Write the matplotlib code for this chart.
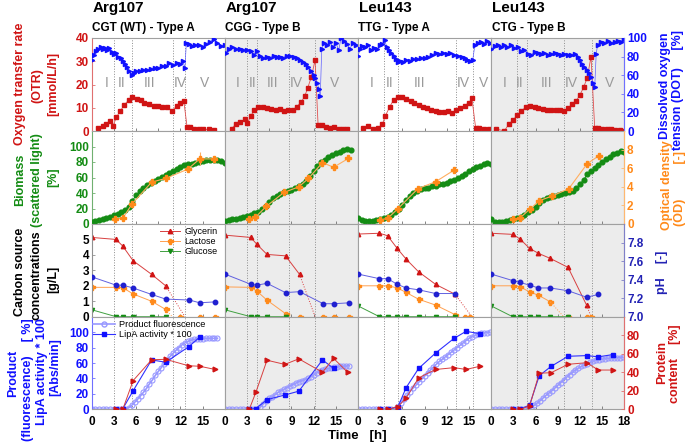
import matplotlib
matplotlib.use('Agg')
import matplotlib.pyplot as plt
from matplotlib.lines import Line2D

plt.rcParams['font.family'] = ['Liberation Sans', 'DejaVu Sans']
plt.rcParams['font.weight'] = 'bold'

RED = '#d01414'
BLUE = '#1010ff'
GREEN = '#148c14'
ORANGE = '#ff8a1a'
DKBLUE = '#2222b4'
LAV = '#9898ff'
PHASE = '#9a9a9a'
VLINE = '#8c8c8c'
SHADE = '#ececec'
FRAME = '#a0a0a0'

# ---------------- titles / phases ----------------
strains = ['Arg107', 'Arg107', 'Leu143', 'Leu143']
codons = ['CGT (WT) - Type A', 'CGG - Type B', 'TTG - Type A', 'CTG - Type B']
phase_names = ['I', 'II', 'III', 'IV', 'V']
phase_bounds_c1 = [3.0, 5.5, 11.0, 12.6]
phase_bounds_c2 = [3.0, 4.4, 8.7, 12.2]
phase_bounds_c3 = [3.5, 5.4, 13.2, 15.5]
phase_bounds_c4 = [3.5, 4.8, 9.9, 13.6]
phase_text_c1 = [2.0, 4.1, 7.8, 12.0, 15.3]
phase_text_c2 = [1.7, 3.8, 6.4, 9.7, 14.8]
phase_text_c3 = [1.8, 4.3, 8.3, 14.2, 17.0]
phase_text_c4 = [1.8, 3.9, 7.5, 10.9, 16.0]

# ---------------- row 1: DOT [%] and OTR [mmol/L/h] ----------------
dot_t_c1 = [0, 0.3, 0.6, 0.9, 1.2, 1.5, 1.8, 2.1, 2.4, 2.7, 3.0, 3.3, 3.6, 3.9, 4.2, 4.5, 4.8, 5.1, 5.4, 5.7,
            6.0, 6.5, 7.0, 7.5, 8.0, 8.5, 9.0, 9.5, 10.0, 10.5, 11.0, 11.5, 12.0, 12.3, 12.6, 12.8, 13.1, 13.5,
            14.0, 14.5, 15.0, 15.5, 16.0, 16.5, 17.0, 17.5, 18.0]
dot_c1 = [76, 82, 86, 88, 90, 88, 89, 87, 89, 85, 83, 84, 80, 78, 75, 72, 69, 65, 60, 62,
          64, 65, 66, 66, 67, 68, 68, 70, 70, 73, 71, 73, 72, 75, 68, 95, 94, 91,
          93, 92, 90, 94, 96, 99, 95, 91, 92]
dot_t_c2 = [0.1, 0.5, 1.0, 1.5, 2.0, 2.5, 3.0, 3.5, 3.9, 4.3, 4.8, 5.2, 5.7, 6.1, 6.6, 7.0, 7.5, 7.9, 8.4, 8.8,
            9.3, 9.7, 10.2, 10.6, 11.0, 11.3, 11.6, 12.0, 12.2, 12.5, 12.7, 12.9, 13.1, 13.4, 13.8, 14.2, 14.6,
            15.0, 15.4, 15.7, 16.1, 16.5, 16.9, 17.3, 17.7]
dot_c2 = [84, 88, 90, 88, 88, 87, 87, 86, 82, 86, 81, 79, 80, 79, 81, 80, 80, 79, 81, 81,
          80, 78, 76, 74, 72, 69, 64, 60, 57, 52, 45, 38, 88, 95, 92, 96, 90,
          95, 87, 100, 97, 94, 88, 95, 92]
dot_t_c3 = [0, 0.3, 0.6, 1.0, 1.4, 1.8, 2.2, 2.6, 3.0, 3.3, 3.6, 3.9, 4.2, 4.5, 4.8, 5.1, 5.4, 5.7, 6.1, 6.5,
            7.0, 7.5, 8.0, 8.5, 9.0, 9.5, 10.0, 10.5, 11.0, 11.5, 12.0, 12.5, 13.0, 13.5, 14.0, 14.4, 14.8,
            15.2, 15.5, 15.8, 16.2, 16.6, 17.0, 17.4, 17.8]
dot_c3 = [81, 88, 91, 90, 92, 87, 89, 88, 92, 94, 98, 90, 87, 84, 81, 77, 74, 75, 74, 76,
          75, 77, 77, 78, 79, 80, 82, 84, 83, 84, 83, 84, 82, 81, 80, 78, 76,
          75, 76, 92, 95, 96, 94, 97, 95]
dot_t_c4 = [0, 0.5, 0.9, 1.3, 1.8, 2.2, 2.7, 3.1, 3.6, 4.0, 4.5, 5.0, 5.4, 5.9, 6.3, 6.8, 7.2, 7.7, 8.1, 8.6,
            9.0, 9.5, 9.9, 10.4, 10.8, 11.3, 11.7, 12.0, 12.3, 12.6, 12.9, 13.2, 13.5, 13.8, 14.0, 14.2, 14.4,
            14.8, 15.3, 15.8, 16.2, 16.7, 17.1, 17.5, 17.9]
dot_c4 = [88, 91, 93, 90, 92, 90, 93, 89, 90, 86, 87, 83, 82, 85, 84, 83, 84, 82, 83, 84,
          83, 82, 83, 82, 82, 83, 80, 76, 72, 69, 66, 62, 58, 52, 47, 83, 93,
          96, 95, 97, 95, 96, 97, 96, 99]

otr_t_c1 = [0.85, 1.5, 2.0, 2.45, 2.9, 3.35, 3.85, 4.4, 5.0, 5.45, 6.1, 6.6, 7.1, 7.8, 8.4, 8.9, 9.5, 10.2,
            10.9, 11.5, 12.0, 12.45, 12.9, 13.3, 13.8, 14.5, 15.1, 15.8, 16.5]
otr_c1 = [1.15, 2.0, 2.8, 4.1, 2.3, 6.0, 8.5, 11.2, 13.3, 14.5, 13.9, 13.3, 12.2, 11.6, 10.8, 10.8, 10.5, 10.2,
          8.7, 10.8, 11.9, 13.0, 1.6, 1.8, 1.0, 0.8, 0.7, 0.65, 0.6]
otr_t_c2 = [0.9, 1.5, 2.1, 2.7, 3.05, 3.5, 4.0, 4.5, 5.1, 5.7, 6.3, 6.9, 7.5, 8.0, 8.6, 9.2, 9.7, 10.3, 10.8,
            11.2, 11.7, 12.2, 12.6, 13.1, 13.7, 14.2, 14.8, 15.4, 16.0, 16.5]
otr_c2 = [1.0, 3.0, 4.0, 5.0, 3.3, 6.5, 9.0, 10.2, 10.3, 9.9, 9.5, 9.0, 9.3, 8.5, 9.2, 8.9, 10.5, 12.3, 15.0,
          18.5, 23.3, 30.5, 2.7, 2.4, 1.8, 1.3, 1.6, 1.0, 1.0, 0.9]
otr_t_c3 = [0.7, 1.35, 2.0, 2.7, 3.3, 3.7, 4.3, 4.8, 5.4, 6.0, 6.5, 7.1, 7.6, 8.2, 8.8, 9.3, 9.9, 10.5, 11.0,
            11.6, 12.1, 12.7, 13.3, 13.8, 14.4, 15.0, 15.4, 15.9, 16.4, 17.1, 17.7]
otr_c3 = [1.4, 2.15, 0.7, 1.15, 3.0, 6.5, 10.5, 13.3, 14.75, 14.5, 13.8, 12.9, 12.2, 11.2, 10.5, 9.8, 9.0, 8.6,
          8.3, 8.3, 8.6, 7.9, 9.0, 10.0, 10.9, 12.2, 14.1, 1.4, 1.15, 0.9, 0.7]
otr_t_c4 = [0.6, 1.8, 2.4, 3.0, 3.5, 4.1, 4.7, 5.3, 5.9, 6.4, 7.0, 7.6, 8.1, 8.7, 9.3, 9.8, 10.4, 10.9, 11.5,
            12.0, 12.5, 13.0, 13.5, 14.0, 14.5, 15.0, 15.6, 16.2, 16.8, 17.4, 18.0]
otr_c4 = [0.8, 0.1, 3.0, 4.8, 6.8, 8.7, 10.3, 10.8, 10.4, 9.8, 9.4, 9.2, 9.0, 9.0, 8.9, 8.6, 9.8, 11.4, 13.0,
          15.5, 18.8, 23.0, 32.0, 1.2, 1.1, 1.0, 0.9, 0.8, 0.6, 0.4, 0.2]

# ---------------- row 2: biomass [%] and OD [-] ----------------
bio_t_c1 = [0, 0.5, 1, 1.5, 2, 2.5, 3, 3.5, 4, 4.5, 5, 5.5, 6, 6.5, 7, 7.5, 8, 8.5, 9, 9.5, 10, 10.5, 11,
            11.5, 12, 12.5, 13, 13.5, 14, 14.5, 15, 15.5, 16, 16.5, 17, 17.5, 18]
bio_c1 = [3, 4, 5, 6.5, 8, 9.5, 11.5, 13.5, 16, 18.5, 22, 30, 37, 42, 47, 50, 53, 56, 58, 60.5, 63, 66, 68,
          71, 74, 76, 78, 78, 79, 80, 81, 82, 82, 83, 82, 81, 79]
bio_t_c2 = [0, 0.5, 1, 1.5, 2, 2.5, 3, 3.5, 4, 4.5, 5, 5.5, 6, 6.5, 7, 7.5, 8, 8.5, 9, 9.5, 10, 10.5, 11,
            11.5, 12, 12.5, 13, 13.5, 14, 14.5, 15, 15.5, 16, 16.5, 17]
bio_c2 = [4, 5, 6, 7, 8, 9, 10.5, 12, 14, 16, 19, 23, 29, 33, 36, 38.5, 41, 43, 44, 46, 49, 52, 56,
          62, 68, 75, 80, 83, 86, 89, 91, 93.5, 96, 97, 95]
bio_t_c3 = [0, 0.5, 1, 1.5, 2, 2.5, 3, 3.5, 4, 4.5, 5, 5.5, 6, 6.5, 7, 7.5, 8, 8.5, 9, 9.5, 10, 10.5, 11,
            11.5, 12, 12.5, 13, 13.5, 14, 14.5, 15, 15.5, 16, 16.5, 17, 17.5, 18]
bio_c3 = [8, 5, 3.5, 3.5, 4.5, 5.5, 6.5, 8, 9.5, 11, 15, 20, 25, 31, 36, 40, 43, 45, 46, 47, 48.5, 49.5, 51,
          52, 53.5, 55, 57, 59, 62, 65, 68, 70.5, 73, 75, 77, 79, 78]
bio_t_c4 = [0, 0.5, 1, 1.5, 2, 2.5, 3, 3.5, 4, 4.5, 5, 5.5, 6, 6.5, 7, 7.5, 8, 8.5, 9, 9.5, 10, 10.5, 11,
            11.5, 12, 12.5, 13, 13.5, 14, 14.5, 15, 15.5, 16, 16.5, 17, 17.5, 18]
bio_c4 = [7, 3, 2, 2, 3.5, 5, 6.5, 8, 9.5, 12, 15, 18, 22, 27, 31, 33, 34.5, 36, 37, 38.5, 40, 41.5, 43,
          46, 51, 57, 64, 68, 72, 76, 80, 84, 87, 90, 92, 94, 93]

od_t_c1 = [3.2, 4.2, 5.5, 8.1, 10.0, 13.0, 14.6, 16.6]
od_c1 = [0.55, 0.62, 2.2, 4.5, 4.9, 5.9, 7.0, 7.0]
od_err_c1 = [0.1, 0.1, 0.15, 0.15, 0.15, 0.3, 0.7, 0.15]
od_t_c2 = [3.3, 4.1, 5.6, 8.0, 10.0, 11.3, 13.2, 14.7, 16.7]
od_c2 = [0.55, 0.7, 1.9, 3.4, 4.0, 4.9, 6.6, 6.1, 7.05]
od_err_c2 = [0.1, 0.1, 0.1, 0.1, 0.1, 0.1, 0.15, 0.15, 0.15]
od_t_c3 = [3.0, 4.0, 5.4, 8.1, 10.5, 13.0]
od_c3 = [0.45, 0.6, 1.65, 3.8, 4.55, 5.8]
od_err_c3 = [0.1, 0.1, 0.1, 0.1, 0.1, 0.15]
od_t_c4 = [3.0, 3.9, 5.3, 6.5, 8.2, 10.5, 13.0, 14.6]
od_c4 = [0.5, 0.65, 1.65, 2.5, 3.0, 3.8, 6.5, 7.35]
od_err_c4 = [0.1, 0.1, 0.1, 0.1, 0.1, 0.1, 0.15, 0.15]

# ---------------- row 3: carbon sources [g/L] and pH ----------------
glyc_t_c1 = [0, 3.3, 4.2, 5.6, 8.1, 10.0]
glyc_c1 = [5.13, 5.0, 4.57, 3.62, 2.74, 2.0]
glyc_t_c2 = [0, 3.5, 4.3, 5.7, 8.2, 10.1]
glyc_c2 = [5.28, 5.13, 4.7, 4.03, 3.94, 2.74]
glyc_t_c3 = [0, 2.9, 4.0, 5.3, 6.5, 8.2, 10.5, 13.1]
glyc_c3 = [5.35, 5.4, 5.24, 4.42, 3.73, 2.9, 2.09, 1.46]
glyc_t_c4 = [0, 2.9, 3.9, 5.2, 6.4, 8.0, 10.4, 12.9]
glyc_c4 = [5.4, 5.33, 5.03, 4.42, 4.1, 3.77, 3.19, 0.75]
glyc_end_t = [12.6, 12.2, 15.4, 13.5]

lact_t_c1 = [0, 3.3, 4.2, 5.6, 8.1, 10.0]
lact_c1 = [1.9, 1.9, 1.88, 1.47, 1.0, 0.47]
lact_t_c2 = [0, 3.5, 4.3, 5.7, 8.2]
lact_c2 = [1.93, 1.9, 1.67, 1.07, 0.2]
lact_t_c3 = [0, 2.9, 4.0, 5.3, 6.5, 8.2, 10.5, 13.1]
lact_c3 = [2.0, 2.0, 2.0, 1.87, 1.57, 1.13, 0.75, 0.14]
lact_t_c4 = [0, 2.9, 3.9, 5.2, 6.4, 8.0]
lact_c4 = [2.0, 2.0, 1.94, 1.6, 1.39, 0.96]
lact_end_t = [10.9, 8.8, 13.6, 9.8]
lact_zero_t_c1 = [12.0, 14.6, 16.7]
lact_zero_t_c2 = [10.1, 13.3, 14.8, 16.8]
lact_zero_t_c3 = [14.4, 15.1]
lact_zero_t_c4 = [10.4, 12.9, 13.5]

gluc_t_c1 = [0, 3.3, 4.2, 5.6, 8.1, 10.0]
gluc_c1 = [0.45, 0, 0, 0, 0, 0]
gluc_t_c2 = [0, 3.5, 4.3, 5.7, 8.2]
gluc_c2 = [0.45, 0, 0, 0, 0]
gluc_t_c3 = [0, 2.9, 4.0, 5.3, 6.5, 8.2, 10.5, 13.1]
gluc_c3 = [0.7, 0, 0, 0, 0, 0, 0, 0]
gluc_t_c4 = [0, 2.9, 3.9, 5.2, 6.4, 8.0, 10.4]
gluc_c4 = [0.7, 0, 0, 0, 0, 0, 0]

ph_t_c1 = [0, 3.3, 4.2, 5.6, 8.1, 10.0, 13.2, 14.6, 16.7]
ph_c1 = [7.43, 7.34, 7.34, 7.31, 7.24, 7.19, 7.18, 7.15, 7.16]
ph_t_c2 = [0, 3.5, 4.3, 5.7, 8.2, 10.1, 13.3, 14.8, 16.8]
ph_c2 = [7.46, 7.35, 7.34, 7.36, 7.26, 7.27, 7.14, 7.14, 7.15]
ph_t_c3 = [0, 2.9, 4.0, 5.3, 6.5, 8.2, 10.5, 13.1]
ph_c3 = [7.46, 7.41, 7.41, 7.35, 7.31, 7.29, 7.25, 7.25]
ph_t_c4 = [0, 2.9, 3.9, 5.2, 6.4, 8.0, 10.4, 12.9, 14.5]
ph_c4 = [7.46, 7.39, 7.37, 7.34, 7.31, 7.31, 7.28, 7.21, 7.24]

# ---------------- row 4: product fluorescence, LipA activity*100, protein content ----------------
prod_t_c1 = [0, 0.5, 1.0, 1.5, 2.0, 2.5, 3.0, 3.5, 4.0, 4.5, 5.0, 5.4, 5.8, 6.2, 6.6, 7.0, 7.4, 7.8, 8.2, 8.6,
             9.0, 9.4, 9.8, 10.2, 10.6, 11.0, 11.4, 11.8, 12.2, 12.6, 13.0, 13.4, 13.8, 14.2, 14.6, 15.0, 15.4,
             15.8, 16.2, 16.6, 17.0]
prod_c1 = [0, 0, 0, 0, 0, 0, 0, 0, 0, 0, 2, 5, 9, 13, 17.5, 22, 27, 33, 38, 44,
           49, 54, 59, 64, 68.5, 72.5, 76.5, 80, 83.5, 86, 88, 89.5, 90.5, 91, 91.5, 91.5, 92,
           92, 92, 92, 92]
prod_t_c2 = [0, 0.5, 1.0, 1.5, 2.0, 2.5, 3.0, 3.5, 4.0, 4.4, 4.8, 5.2, 5.6, 6.0, 6.4, 6.8, 7.2, 7.6, 8.0, 8.4,
             8.8, 9.2, 9.6, 10.0, 10.4, 10.8, 11.2, 11.6, 12.0, 12.4, 12.8, 13.2, 13.6, 14.0, 14.4, 14.8, 15.2,
             15.6, 16.0, 16.4, 16.8]
prod_c2 = [0, 0, 0, 0, 0, 0, 0, 0, 0, 0, 3, 7, 11, 14, 16, 19, 22, 24, 26, 28,
           30, 32, 34, 36, 37, 38.5, 40, 42, 44.5, 47, 49, 51, 52, 53, 54, 54.5, 55,
           55.5, 56, 56, 56.5]
prod_t_c3 = [0, 0.5, 1.0, 1.5, 2.0, 2.5, 3.0, 3.5, 4.0, 4.5, 5.0, 5.4, 5.8, 6.2, 6.6, 7.0, 7.4, 7.8, 8.2, 8.6,
             9.0, 9.4, 9.8, 10.2, 10.6, 11.0, 11.4, 11.8, 12.2, 12.6, 13.0, 13.4, 13.8, 14.2, 14.6, 15.0, 15.4,
             15.8, 16.2, 16.6, 17.0, 17.4, 17.8]
prod_c3 = [0, 0, 0, 0, 0, 0, 0, 0, 0, 0, 0, 3, 8, 13, 18, 23, 27, 31, 35, 39,
           43, 47, 51, 55, 58.5, 62, 65, 68, 71, 74, 77, 80, 83, 86, 89, 92, 94,
           96, 97.5, 98.5, 99, 99.5, 100]
prod_t_c4 = [0, 0.5, 1.0, 1.5, 2.0, 2.5, 3.0, 3.5, 4.0, 4.5, 5.0, 5.4, 5.8, 6.2, 6.6, 7.0, 7.4, 7.8, 8.2, 8.6,
             9.0, 9.4, 9.8, 10.2, 10.6, 11.0, 11.4, 11.8, 12.2, 12.6, 13.0, 13.4, 13.8, 14.2, 14.6, 15.0, 15.4,
             15.8, 16.2, 16.6, 17.0, 17.4, 17.8]
prod_c4 = [0, 0, 0, 0, 0, 0, 0, 0, 0, 0, 0, 2, 5, 8, 11, 14.5, 18, 21, 24, 27.5,
           31, 34.5, 38, 41.5, 45, 48, 51, 53.5, 55.5, 57.5, 59, 61, 62.5, 63.5, 64.5, 65, 65.5,
           66, 66.5, 66.5, 67, 67, 67.5]

lipa_t_c1 = [3.3, 4.2, 5.6, 8.1, 10.0, 13.1, 14.6]
lipa_c1 = [0, 0.7, 24, 64, 61, 81, 93.5]
lipa_t_c2 = [3.3, 4.2, 5.7, 8.1, 10.0, 13.2, 14.7]
lipa_c2 = [0, 1, 12.5, 18.5, 23.5, 64, 53]
lipa_t_c3 = [3.0, 4.0, 5.4, 6.5, 8.2, 10.5, 13.0, 14.6, 16.5]
lipa_c3 = [0, 0, 3, 28, 53, 73, 92, 101, 98]
lipa_t_c4 = [3.0, 3.9, 5.2, 6.5, 8.1, 10.4, 12.9, 14.5, 16.5]
lipa_c4 = [0, 0, 5.6, 43.5, 55.6, 68.7, 69.6, 68, 71]

prot_t_c1 = [3.3, 4.2, 5.6, 8.1, 10.0, 13.1, 14.6, 16.7]
prot_c1 = [0, 0, 31, 53.5, 54, 47, 46.5, 43]
prot_t_c2 = [3.3, 4.2, 5.7, 8.1, 10.0, 13.2, 14.7, 16.6]
prot_c2 = [0, 18.5, 53, 48.5, 54.5, 40, 55, 40]
prot_t_c3 = [3.0, 4.0, 5.4, 6.5, 8.2, 10.5, 13.0, 14.6, 16.5]
prot_c3 = [0, 0, 3, 12, 34, 43, 45, 43, 46.5]
prot_t_c4 = [3.0, 3.9, 5.2, 6.5, 8.1, 10.4, 12.9, 14.5, 16.5]
prot_c4 = [0, 0, 3.6, 39, 39.5, 48.6, 50.3, 42.4, 42.4]

# ---------------- grouping for the loop ----------------
phase_bounds = [phase_bounds_c1, phase_bounds_c2, phase_bounds_c3, phase_bounds_c4]
phase_text = [phase_text_c1, phase_text_c2, phase_text_c3, phase_text_c4]
dot_t = [dot_t_c1, dot_t_c2, dot_t_c3, dot_t_c4]
dot = [dot_c1, dot_c2, dot_c3, dot_c4]
otr_t = [otr_t_c1, otr_t_c2, otr_t_c3, otr_t_c4]
otr = [otr_c1, otr_c2, otr_c3, otr_c4]
bio_t = [bio_t_c1, bio_t_c2, bio_t_c3, bio_t_c4]
bio = [bio_c1, bio_c2, bio_c3, bio_c4]
od_t = [od_t_c1, od_t_c2, od_t_c3, od_t_c4]
od = [od_c1, od_c2, od_c3, od_c4]
od_err = [od_err_c1, od_err_c2, od_err_c3, od_err_c4]
glyc_t = [glyc_t_c1, glyc_t_c2, glyc_t_c3, glyc_t_c4]
glyc = [glyc_c1, glyc_c2, glyc_c3, glyc_c4]
lact_t = [lact_t_c1, lact_t_c2, lact_t_c3, lact_t_c4]
lact = [lact_c1, lact_c2, lact_c3, lact_c4]
lact_zero_t = [lact_zero_t_c1, lact_zero_t_c2, lact_zero_t_c3, lact_zero_t_c4]
gluc_t = [gluc_t_c1, gluc_t_c2, gluc_t_c3, gluc_t_c4]
gluc = [gluc_c1, gluc_c2, gluc_c3, gluc_c4]
ph_t = [ph_t_c1, ph_t_c2, ph_t_c3, ph_t_c4]
ph = [ph_c1, ph_c2, ph_c3, ph_c4]
prod_t = [prod_t_c1, prod_t_c2, prod_t_c3, prod_t_c4]
prod = [prod_c1, prod_c2, prod_c3, prod_c4]
lipa_t = [lipa_t_c1, lipa_t_c2, lipa_t_c3, lipa_t_c4]
lipa = [lipa_c1, lipa_c2, lipa_c3, lipa_c4]
prot_t = [prot_t_c1, prot_t_c2, prot_t_c3, prot_t_c4]
prot = [prot_c1, prot_c2, prot_c3, prot_c4]

# ---------------- layout ----------------
W, H = 685.0, 443.0
fig = plt.figure(figsize=(6.85, 4.43), dpi=100)
col_w = 133.15
col_left = [91.7 + col_w * c for c in range(4)]
row_edges = [38.0, 131.0, 224.0, 316.7, 409.3]

left_lim = [(0, 40), (0, 120), (0, 6), (0, 120)]
right_lim = [(0, 100), (0, 10), (7.0, 8.0), (0, 100)]
left_ticks = [[0, 10, 20, 30, 40], [0, 20, 40, 60, 80, 100], [0, 1, 2, 3, 4, 5], [0, 20, 40, 60, 80, 100]]
right_ticks = [[0, 20, 40, 60, 80, 100], [0, 2, 4, 6, 8], [7.0, 7.2, 7.4, 7.6, 7.8], [0, 20, 40, 60, 80]]
left_col = [RED, GREEN, 'black', BLUE]
right_col = [BLUE, ORANGE, DKBLUE, RED]
left_spine = ['#e07070', '#70b070', '#909090', '#7070ff']
right_spine = ['#7070ff', '#ffb870', '#8080c8', '#e07070']

axes = {}
for r in range(4):
    for c in range(4):
        x0 = col_left[c] / W
        y0 = 1 - row_edges[r + 1] / H
        h = (row_edges[r + 1] - row_edges[r]) / H
        ax = fig.add_axes([x0, y0, col_w / W, h])
        ax.set_facecolor(SHADE if c in (1, 3) else 'white')
        tw = ax.twinx()
        axes[(r, c)] = (ax, tw)

for c in range(4):
    # row 1
    ax, tw = axes[(0, c)]
    ax.plot(otr_t[c], otr[c], color='#e05050', lw=0.6, marker='s', ms=2.6, mfc=RED, mec=RED, zorder=3)
    tw.plot(dot_t[c], dot[c], color='#6060ff', lw=0.5, marker='>', ms=3.0, mfc=BLUE, mec=BLUE, ls='-')
    for name, tt in zip(phase_names, phase_text[c]):
        ax.text(tt, 20.5, name, color=PHASE, fontsize=10, fontweight='normal', ha='center', va='center')
    # row 2
    ax, tw = axes[(1, c)]
    ax.plot(bio_t[c], bio[c], color=GREEN, lw=0.8, marker='o', ms=3.4, mfc=GREEN, mec=GREEN, zorder=3)
    tw.errorbar(od_t[c], od[c], yerr=od_err[c], color='#ffae60', lw=0.8, marker='P', ms=4.2,
                mfc=ORANGE, mec=ORANGE, ecolor='#ffae60', elinewidth=0.8, capsize=0)
    # row 3
    ax, tw = axes[(2, c)]
    ax.plot(glyc_t[c], glyc[c], color='#d84040', lw=0.7, marker='^', ms=3.2, mfc=RED, mec=RED)
    ax.plot([glyc_t[c][-1], glyc_end_t[c]], [glyc[c][-1], 0], color='#d84040', lw=0.7, ls=':')
    ax.plot(lact_t[c], lact[c], color='#ffa050', lw=0.7, marker='P', ms=3.6, mfc=ORANGE, mec=ORANGE)
    ax.plot([lact_t[c][-1], lact_end_t[c]], [lact[c][-1], 0], color='#ffa050', lw=0.7, ls=':')
    ax.plot(lact_zero_t[c], [0 for _ in lact_zero_t[c]], ls='none', marker='P', ms=3.6, mfc=ORANGE, mec=ORANGE)
    ax.plot(gluc_t[c], gluc[c], color='#40a040', lw=0.7, marker='v', ms=3.0, mfc=GREEN, mec=GREEN)
    tw.plot(ph_t[c], ph[c], color='#6060e0', lw=0.7, marker='o', ms=3.2, mfc='#2020d0', mec='#2020d0')
    # row 4
    ax, tw = axes[(3, c)]
    ax.plot(prod_t[c], prod[c], color=LAV, lw=1.2, marker='o', ms=3.6, mfc='none', mec=LAV, mew=0.8)
    ax.plot(lipa_t[c], lipa[c], color='#3030ff', lw=0.8, marker='s', ms=3.0, mfc=BLUE, mec=BLUE, zorder=4)
    tw.plot(prot_t[c], prot[c], color='#d84040', lw=0.7, marker='>', ms=3.4, mfc=RED, mec=RED)

# styling
for (r, c), (ax, tw) in axes.items():
    ax.set_xlim(0, 18)
    ax.set_ylim(*left_lim[r])
    tw.set_ylim(*right_lim[r])
    for b in phase_bounds[c]:
        ax.axvline(b, color=VLINE, lw=0.7, ls=':', zorder=0.5)
    xt = [0, 3, 6, 9, 12, 15, 18] if c == 3 else [0, 3, 6, 9, 12, 15]
    ax.set_xticks(xt)
    ax.tick_params(axis='x', direction='in', length=2.5, width=0.6, color='#707070',
                   labelsize=8.5, labelbottom=(r == 3), pad=4.5)
    for sp in ax.spines.values():
        sp.set_color(FRAME)
        sp.set_linewidth(0.8)
    for sp in tw.spines.values():
        sp.set_visible(False)
    if c == 0:
        ax.set_yticks(left_ticks[r])
        ax.tick_params(axis='y', direction='in', length=2.5, width=0.6, color=left_spine[r],
                       labelsize=8.5, labelcolor=left_col[r], pad=2)
        ax.spines['left'].set_color(left_spine[r])
    else:
        ax.tick_params(axis='y', left=False, labelleft=False)
    if c == 3:
        tw.set_yticks(right_ticks[r])
        if r == 2:
            tw.set_yticklabels(['%.1f' % v for v in right_ticks[r]])
        tw.tick_params(axis='y', direction='in', length=2.5, width=0.6, color=right_spine[r],
                       labelsize=8.5, labelcolor=right_col[r], pad=2)
        tw.spines['right'].set_visible(True)
        tw.spines['right'].set_color(right_spine[r])
        tw.spines['right'].set_linewidth(0.8)
    else:
        tw.tick_params(axis='y', right=False, labelright=False)

# legends (figure level so that they sit above neighbouring panels)
hands = [Line2D([], [], color='#d84040', lw=0.7, marker='^', ms=3.2, mfc=RED, mec=RED),
         Line2D([], [], color='#ffa050', lw=0.7, marker='P', ms=3.6, mfc=ORANGE, mec=ORANGE),
         Line2D([], [], color='#40a040', lw=0.7, marker='v', ms=3.0, mfc=GREEN, mec=GREEN)]
fig.legend(hands, ['Glycerin', 'Lactose', 'Glucose'], loc='upper left',
           bbox_to_anchor=(160 / W, 1 - 227 / H), frameon=False,
           prop={'size': 6.5, 'weight': 'normal'}, handlelength=2.2, labelspacing=0.12,
           handletextpad=0.5, borderpad=0.0, borderaxespad=0.0)
hands = [Line2D([], [], color=LAV, lw=1.2, marker='o', ms=3.6, mfc='none', mec=LAV),
         Line2D([], [], color='#3030ff', lw=0.8, marker='s', ms=3.0, mfc=BLUE, mec=BLUE)]
fig.legend(hands, ['Product fluorescence', 'LipA activity * 100'], loc='upper left',
           bbox_to_anchor=(93 / W, 1 - 320 / H), frameon=False,
           prop={'size': 6.6, 'weight': 'normal'}, handlelength=2.4, labelspacing=0.15,
           handletextpad=0.4, borderpad=0.0, borderaxespad=0.0)

# titles
for c in range(4):
    fig.text((col_left[c] + 0.5) / W, 1 - 8 / H, strains[c], fontsize=11, ha='left', va='center')
    fig.text((col_left[c] + 0.5) / W, 1 - 28 / H, codons[c], fontsize=8.5, ha='left', va='center')

# axis labels, one text per line
def vlab(x, y, s, color):
    fig.text(x / W, 1 - y / H, s, rotation=90, color=color, fontsize=9, ha='center', va='center')

vlab(20, 84, 'Oxygen transfer rate', RED)
vlab(37, 86, '(OTR)', RED)
vlab(53, 84, '[mmol/L/h]', RED)
vlab(20, 180, 'Biomass', GREEN)
vlab(37, 180, '(scattered light)', GREEN)
vlab(53, 177, '[%]', GREEN)
vlab(20, 272, 'Carbon source', 'black')
vlab(37, 275, 'concentrations', 'black')
vlab(53, 279, '[g/L]', 'black')
vlab(13, 373, 'Product', BLUE)
vlab(27.5, 380, '(fluorescence)    [ %]', BLUE)
vlab(41.5, 372, 'LipA activity * 100', BLUE)
vlab(55, 367, '[Abs/min]', BLUE)
vlab(665, 86, 'Dissolved oxygen', BLUE)
vlab(678, 90, 'tension (DOT)     [%]', BLUE)
vlab(667, 185, 'Optical density', ORANGE)
vlab(680, 188, '(OD)          [-]', ORANGE)
vlab(662, 272, 'pH    [-]', DKBLUE)
vlab(662, 362, 'Protein', RED)
vlab(675, 364, 'content    [%]', RED)

fig.text(357 / W, 1 - 436 / H, 'Time   [h]', fontsize=9.5, ha='center', va='center')

fig.savefig('out.png', dpi=100)
